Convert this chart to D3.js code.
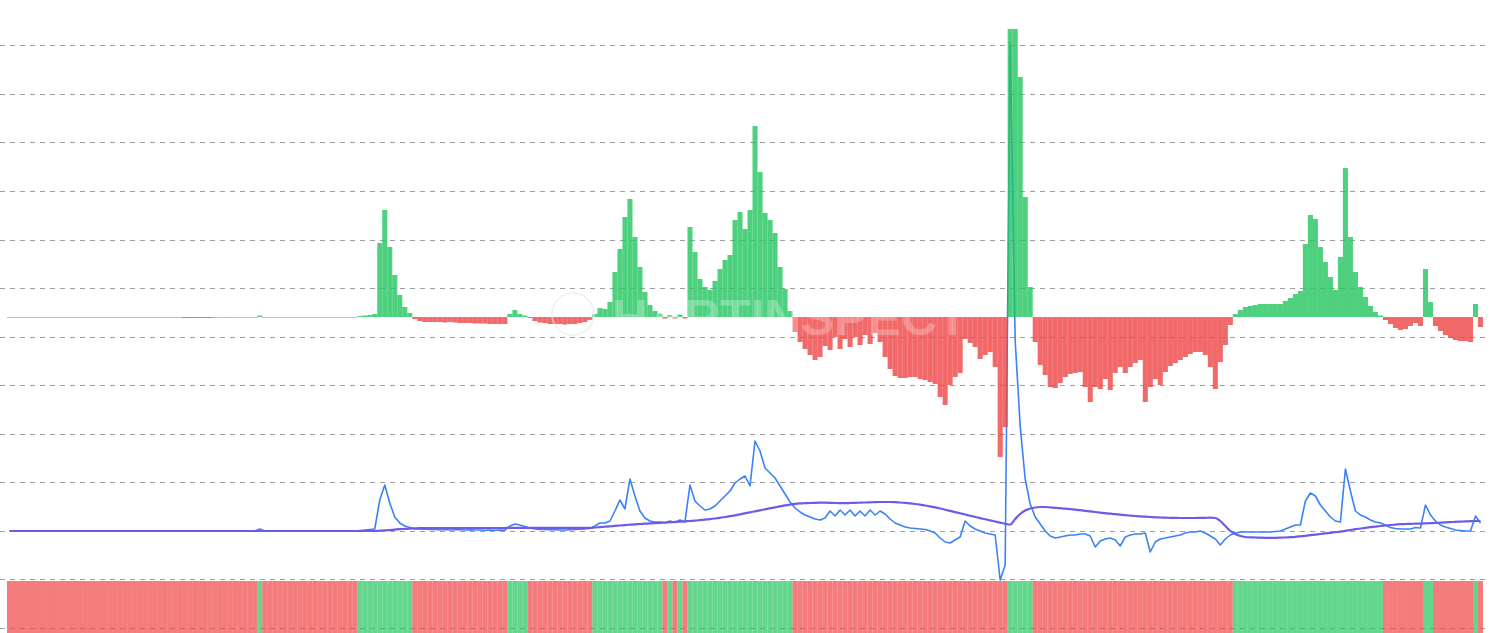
<!DOCTYPE html>
<html>
<head>
<meta charset="utf-8">
<script src="https://cdn.jsdelivr.net/npm/d3@7/dist/d3.min.js"></script>
<style>
html,body{margin:0;padding:0;background:#fff;overflow:hidden;}
svg{display:block;}
</style>
</head>
<body>
<svg id="chart" width="1490" height="633"></svg>
<script>
// Histogram (oscillator) values, one per bar
const histValues = [
-0.6,-0.6,-0.6,-0.6,-0.6,-0.6,-0.6,-0.6,-0.6,-0.6,
-0.6,-0.6,-0.6,-0.6,-0.6,-0.6,-0.6,-0.6,-0.6,-0.6,
-0.6,-0.6,-0.6,-0.6,-0.6,-0.6,-0.6,-0.6,-0.6,-0.6,
-0.6,-0.6,-0.6,-0.6,-0.6,-1,-1,-1,-1,-1,
-1,-0.6,-0.6,-0.6,-0.6,-0.6,-0.6,-0.6,-0.6,-0.6,
1.5,-0.6,-0.6,-0.6,-0.6,-0.6,-0.6,-0.6,-0.6,-0.6,
-0.6,-0.6,-0.6,-0.6,-0.6,-0.6,-0.6,-0.6,-0.6,-0.6,
1,1.5,2,3,74,107,70,42,22,10,
4,-2,-4,-5,-5,-5,-5,-5.5,-5,-5.5,
-6,-6,-6,-6.5,-6.5,-6.5,-7,-7,-7,-7,
3,7,3,1.5,-1,-4,-5.5,-6,-7,-7,
-7,-7.5,-7,-7,-6,-5,-3,3,9,8,
15,45,68,100,118,80,50,25,12,6,
3.5,-1.5,2,-1.5,2.5,-1.5,90,65,38,30,
27,36,48,57,62,97,105,88,107,191,
145,104,97,84,50,28,6,-15,-25,-32,
-38,-43,-40,-29,-33,-20,-32,-22,-30,-20,
-28,-18,-27,-16,-25,-40,-52,-59,-61,-61,
-60,-60,-62,-63,-65,-67,-80,-88,-68,-60,
-56,-22,-26,-30,-42,-38,-35,-50,-140,-110,
400,400,240,120,30,-25,-48,-58,-70,-71,
-66,-60,-57,-56,-55,-70,-85,-70,-72,-62,
-73,-56,-50,-56,-50,-46,-43,-85,-70,-62,
-68,-55,-49,-46,-43,-40,-37,-35,-35,-38,
-50,-72,-45,-28,-8,3,7,10,11,12,
13,13,13,13,13,16,19,23,26,73,
102,98,70,55,40,27,60,149,80,45,
30,20,11,5,1.5,-3,-7,-11,-13,-12,
-9,-6,-9,48,15,-9,-14,-18,-21,-23,
-24,-24,-25,13,-10
];

// Fast line (blue)
const fastLine = [
0,0,0,0,0,0,0,0,0,0,
0,0,0,0,0,0,0,0,0,0,
0,0,0,0,0,0,0,0,0,0,
0,0,0,0,0,0,0,0,0,0,
0,0,0,0,0,0,0,0,0,0,
2,0,0,0,0,0,0,0,0,0,
0,0,0,0,0,0,0,0,0,0,
0.5,1,1.5,2,31,46,28,14,8,5,
3.5,2,2,1.8,1.5,1.5,1.2,1.5,1,1.2,
1.5,1,1.2,1,1,0.8,1,0.8,1,0.8,
5,7,6,4.5,3,2,1.5,1.5,1.2,1.2,
1,1,1.2,1.5,1.8,2,2.5,5,8,8,
10,20,31,22,52,35,20,13,10,9,
9,8,10,8.5,11,9,46,30,25,21,
22,25,30,35,40,48,52,55,45,90,
80,63,58,53,45,37,29,23,19,16,
14,12,11,13,20,15,21,16,21,15,
20,15,21,16,20,17,12,8,6,4,
3,2.5,2,1.5,0,-2,-7,-11,-12,-9,
-6,10,5,2,0,-2,-3,-4,-49,-34,
488,190,105,52,27,14,7,0,-5,-7,
-6,-5,-4,-4,-3,-3,-5,-16,-10,-8,
-7,-9,-15,-6,-4,-3,-3,-2,-21,-11,
-8,-7,-6,-5,-4,-2,-1,-1,0,-2,
-5,-8,-14,-8,-4,-2,-1,-1,-1,-1,
-1,-1,-1,-0.5,0,2,4,6,6,30,
38,35,26,20,14,10,9,62,40,20,
16,14,11,9,8,6,3.5,2.5,2,2,
2,3.5,3,26,16,10,6,4,2.5,1,
0.5,0,0,15,8
];

// Slow / signal line (purple)
const slowLine = [
0,0,0,0,0,0,0,0,0,0,
0,0,0,0,0,0,0,0,0,0,
0,0,0,0,0,0,0,0,0,0,
0,0,0,0,0,0,0,0,0,0,
0,0,0,0,0,0,0,0,0,0,
0,0,0,0,0,0,0,0,0,0,
0,0,0,0,0,0,0,0,0,0,
0,0,0,0,0.3,0.6,1,1.4,1.8,2.1,
2.4,2.6,2.8,2.9,3,3,3,3,3,3,
3,3,3,3,3,3,3,3,3,3,
3.2,3.2,3.2,3.2,3.2,3.2,3.2,3.2,3.2,3.2,
3.2,3.2,3.2,3.2,3.2,3.2,3.2,3.5,3.9,4.3,
4.7,5.1,5.5,5.9,6.3,6.7,7.0,7.3,7.6,7.9,
8.2,8.5,8.8,9.1,9.4,9.7,10.0,10.4,10.9,11.4,
11.9,12.5,13.2,14.0,14.8,15.7,16.7,17.7,18.7,19.7,
20.7,21.7,22.7,23.7,24.7,25.6,26.4,27.1,27.6,27.9,
28.0,28.2,28.3,28.3,28.2,28.0,27.9,27.9,28.0,28.1,
28.3,28.5,28.7,28.9,29.0,29.0,29.0,28.8,28.5,28.1,
27.6,27.0,26.3,25.5,24.6,23.6,22.5,21.3,20.1,18.9,
17.7,16.5,15.3,14.1,12.9,11.7,10.6,9.5,8.4,7.3,
6.5,12,17,20.5,22.5,23.5,24,24,23.6,23.2,
22.8,22.3,21.8,21.3,20.8,20.2,19.6,19.0,18.4,17.8,
17.3,16.8,16.3,15.8,15.4,15.0,14.6,14.3,14.0,13.7,
13.5,13.3,13.2,13.1,13.0,13.0,13.0,13.0,13.1,13.2,
13.3,13.0,10,5,0,-3,-5,-6,-6.3,-6.5,
-6.7,-6.8,-6.8,-6.8,-6.7,-6.5,-6.2,-5.8,-5.3,-4.8,
-4.2,-3.6,-3.0,-2.4,-1.8,-1.2,-0.6,0.2,1.0,1.8,
2.5,3.2,3.8,4.4,5.0,5.5,6.0,6.4,6.8,7.0,
7.2,7.3,7.4,7.6,7.8,8.0,8.3,8.6,8.9,9.2,
9.4,9.6,9.8,10.0,10.0
];

const gridCount = 13;
const watermarkText = "HARTINSPECT";

const W = 1490, H = 633;
const svg = d3.select("#chart");
const N = histValues.length;
const idx = d3.range(N);

const x = d3.scaleBand().domain(idx).range([7, 1483]).padding(0);
const bw = x.bandwidth();
const yHist = d3.scaleLinear().domain([0, 100]).range([317, 217]);
const yLine = d3.scaleLinear().domain([0, 100]).range([531, 431]);
const yGrid = d3.scaleLinear().domain([0, gridCount - 1]).range([45.3, 627.9]);

const GREEN = "#22c55e", RED = "#ef4444";

// grid
svg.append("g").selectAll("line").data(d3.range(gridCount)).join("line")
  .attr("x1", 0).attr("x2", 1485)
  .attr("y1", d => Math.round(yGrid(d)) + 0.5)
  .attr("y2", d => Math.round(yGrid(d)) + 0.5)
  .attr("stroke", "#9e9e9e").attr("stroke-width", 1)
  .attr("stroke-dasharray", "5,5");

// lines
const lineGen = d3.line()
  .x((d, i) => x(i) + bw / 2)
  .y(d => yLine(d));

svg.append("path").datum(fastLine)
  .attr("d", lineGen)
  .attr("fill", "none").attr("stroke", "#3b82f6")
  .attr("stroke-width", 1.6).attr("stroke-linejoin", "round");

svg.append("path").datum(slowLine)
  .attr("d", lineGen.curve(d3.curveMonotoneX))
  .attr("fill", "none").attr("stroke", "#6c5ce7")
  .attr("stroke-width", 2.2).attr("stroke-linejoin", "round");

// histogram
const defs = svg.append("defs");
defs.append("clipPath").attr("id", "clipTop")
  .append("rect").attr("x", 0).attr("y", 29).attr("width", W).attr("height", H - 29);

svg.append("g").attr("clip-path", "url(#clipTop)")
  .selectAll("rect").data(histValues).join("rect")
  .attr("x", (d, i) => x(i))
  .attr("width", bw + 0.05)
  .attr("y", d => d >= 0 ? yHist(d) : yHist(0))
  .attr("height", d => Math.abs(yHist(d) - yHist(0)))
  .attr("fill", d => d >= 0 ? GREEN : RED)
  .attr("fill-opacity", 0.8);

// trend strip
svg.append("g").selectAll("rect").data(histValues).join("rect")
  .attr("x", (d, i) => x(i))
  .attr("width", bw)
  .attr("y", 581)
  .attr("height", 52)
  .attr("fill", d => d >= 0 ? GREEN : RED)
  .attr("fill-opacity", 0.7);

// watermark
const wm = svg.append("g").attr("pointer-events", "none");
wm.append("circle").attr("cx", 573).attr("cy", 314).attr("r", 21)
  .attr("fill", "none").attr("stroke", "#e8e8f0").attr("stroke-width", 2).attr("opacity", 0.6);
wm.append("path")
  .attr("d", "M580,330 L612,296 L592,318 Z")
  .attr("fill", "#d9d4f5").attr("opacity", 0.7);
wm.append("text").attr("x", 612).attr("y", 335)
  .attr("font-family", "Liberation Sans, Arial, sans-serif")
  .attr("font-weight", "bold").attr("font-size", 50)
  .attr("fill", "#ffffff").attr("fill-opacity", 0.26)
  .text(watermarkText);
</script>
</body>
</html>
